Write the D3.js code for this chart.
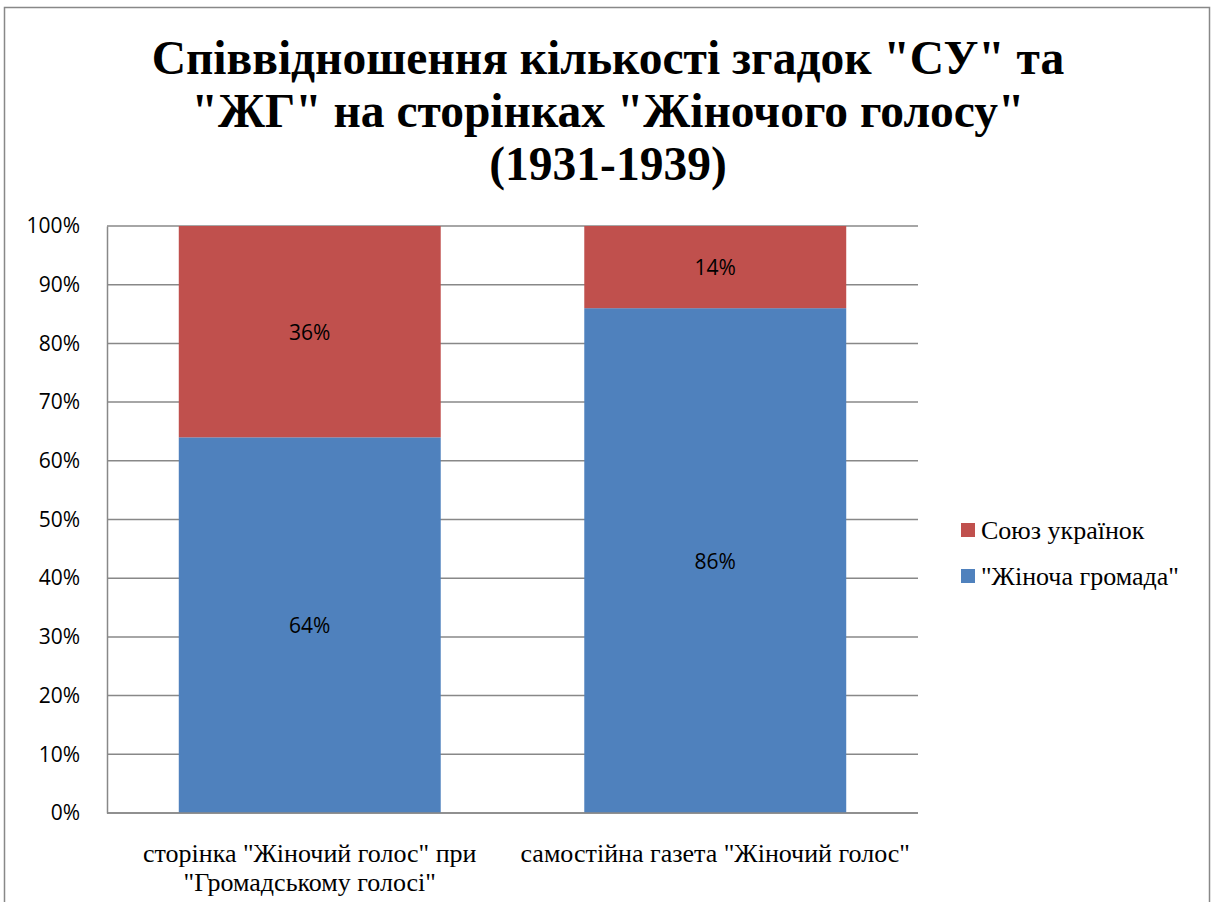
<!DOCTYPE html>
<html><head><meta charset="utf-8">
<script src="https://cdn.jsdelivr.net/npm/d3@7"></script>
</head><body style="margin:0">
<svg id="chart" width="1211" height="902"></svg>
<script>
const titleLines = ['Співвідношення кількості згадок "СУ" та', '"ЖГ" на сторінках "Жіночого голосу"', '(1931-1939)'];
const categories = ['cat1', 'cat2'];
const categoryLabels = [['сторінка "Жіночий голос" при', '"Громадському голосі"'], ['самостійна газета "Жіночий голос"']];
const seriesNames = ['"Жіноча громада"', 'Союз українок'];
const seriesColors = ['#4F81BD', '#C0504D'];
const zhGromadaValues = [0.64, 0.86];
const soyuzValues = [0.36, 0.14];
const yTicks = [0, 0.1, 0.2, 0.3, 0.4, 0.5, 0.6, 0.7, 0.8, 0.9, 1.0];
const legendOrder = [1, 0];

const chart = d3.select('#chart');
const plot = {left: 107, right: 918, top: 226, bottom: 813};
const SERIF = '"Liberation Serif", "Times New Roman", serif';
const SANS = 'Open Sans';

chart.append('rect').attr('x', 4.5).attr('y', 7.5).attr('width', 1205).attr('height', 910)
  .attr('fill', '#fff').attr('stroke', '#888').attr('stroke-width', 1.5);

const xScale = d3.scaleBand().domain(categories).range([plot.left, plot.right]).paddingInner(0.354).paddingOuter(0.177);
const yScale = d3.scaleLinear().domain([0, 1]).range([plot.bottom, plot.top]);

// gridlines
chart.append('g').selectAll('line').data(yTicks).join('line')
  .attr('x1', plot.left).attr('x2', plot.right)
  .attr('y1', d => yScale(d)).attr('y2', d => yScale(d))
  .attr('stroke', '#888').attr('stroke-width', 1.5);

const rows = categories.map((c, i) => ({cat: c, s0: zhGromadaValues[i], s1: soyuzValues[i]}));
const stacked = d3.stack().keys(['s0', 's1'])(rows);

stacked.forEach((layer, si) => {
  chart.append('g').selectAll('rect').data(layer).join('rect')
    .attr('x', d => xScale(d.data.cat)).attr('width', xScale.bandwidth())
    .attr('y', d => yScale(d[1])).attr('height', d => yScale(d[0]) - yScale(d[1]))
    .attr('fill', seriesColors[si]);
});
stacked.forEach((layer) => {
  chart.append('g').selectAll('text').data(layer).join('text')
    .attr('x', d => xScale(d.data.cat) + xScale.bandwidth() / 2)
    .attr('y', d => (yScale(d[0]) + yScale(d[1])) / 2 + 8)
    .attr('text-anchor', 'middle')
    .attr('font-size', 21).attr('fill', '#000')
    .style('font-family', SANS)
    .text(d => Math.round((d[1] - d[0]) * 100) + '%');
});

const yAxis = d3.axisLeft(yScale).tickValues(yTicks).tickFormat(d3.format('.0%')).tickSize(0).tickPadding(27);
const ya = chart.append('g').attr('transform', `translate(${plot.left},0)`).call(yAxis);
ya.attr('font-family', SANS).attr('font-size', 21);
ya.select('.domain').attr('stroke', '#888').attr('stroke-width', 1.5);
ya.selectAll('text').attr('fill', '#000');

chart.append('line').attr('x1', plot.left).attr('x2', plot.right).attr('y1', plot.bottom).attr('y2', plot.bottom)
  .attr('stroke', '#888').attr('stroke-width', 1.5);

// category labels
categories.forEach((c, i) => {
  const t = chart.append('text').attr('text-anchor', 'middle')
    .attr('font-size', 26).attr('fill', '#000').style('font-family', SERIF);
  categoryLabels[i].forEach((line, li) => {
    t.append('tspan').attr('x', xScale(c) + xScale.bandwidth() / 2).attr('y', 862 + li * 29).text(line);
  });
});

// legend
legendOrder.forEach((si, k) => {
  const yy = 530 + k * 46;
  chart.append('rect').attr('x', 961).attr('y', yy - 7).attr('width', 14).attr('height', 14).attr('fill', seriesColors[si]);
  chart.append('text').attr('x', 981).attr('y', yy + 9).attr('font-size', 26)
    .attr('fill', '#000').style('font-family', SERIF).text(seriesNames[si]);
});

// title
const tt = chart.append('text').attr('text-anchor', 'middle')
  .attr('font-weight', 'bold').attr('font-size', 47.5).attr('fill', '#000').style('font-family', SERIF);
titleLines.forEach((line, i) => {
  tt.append('tspan').attr('x', 608).attr('y', 74 + i * 53).text(line);
});
</script>
</body></html>
